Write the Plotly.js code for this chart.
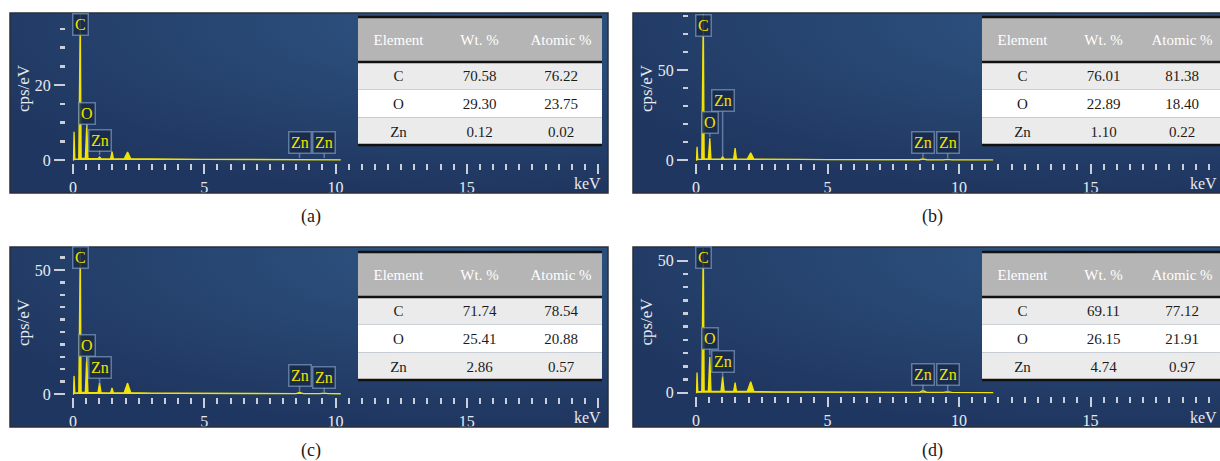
<!DOCTYPE html>
<html><head><meta charset="utf-8">
<script src="https://cdn.plot.ly/plotly-3.0.1.min.js"></script>
<style>html,body{margin:0;padding:0;background:#fff}#chart{width:1220px;height:461px}</style>
</head><body><div id="chart"></div>
<script>
// ---------- data ----------
const energy = [0,0.02,0.04,0.07,0.22,0.277,0.31,0.47,0.525,0.57,0.70,0.95,1.012,1.07,1.30,1.43,1.487,1.54,1.95,2.08,2.20,2.50,3.0,4.0,5.0,6.0,7.0,8.0,8.50,8.63,8.78,9.40,9.57,9.72,10.2,11.3];
const countsA = [0,0,7.5,0.2,0.3,39,0.4,0.4,9.5,0.4,0.35,0.35,0.8,0.35,0.3,0.3,2.2,0.3,0.35,2.1,0.35,0.3,0.25,0.2,0.18,0.15,0.12,0.1,0.1,0.25,0.1,0.08,0.15,0.08,0.05,null];
const countsB = [0,0,7.3,0.3,0.5,82,0.6,0.6,12,0.6,0.5,0.5,1.8,0.5,0.45,0.45,6.6,0.45,0.5,4.0,0.5,0.4,0.35,0.3,0.25,0.2,0.18,0.15,0.15,0.6,0.15,0.12,0.35,0.12,0.1,0.05];
const countsC = [0,0,7.3,0.3,0.5,60,0.6,0.6,15,0.6,0.5,0.5,4.4,0.5,0.45,0.45,2.4,0.45,0.5,4.4,0.5,0.4,0.35,0.3,0.25,0.2,0.18,0.15,0.15,0.6,0.15,0.12,0.35,0.12,0.1,null];
const countsD = [0,0,7.6,0.3,0.5,58,0.6,0.6,13.6,0.6,0.5,0.5,6.1,0.5,0.45,0.45,3.8,0.45,0.5,4.2,0.5,0.4,0.35,0.3,0.25,0.2,0.18,0.15,0.15,0.8,0.15,0.12,0.4,0.12,0.1,0.05];

const lineLabels = ['C','O','Zn','Zn','Zn'];
const lineEnergies = [0.277,0.525,1.012,8.63,9.57];

const tableHeader = ['Element','Wt.\u00a0%','Atomic\u00a0%'];
const elements = ['C','O','Zn'];
const wtA = [70.58,29.30,0.12], atA = [76.22,23.75,0.02];
const wtB = [76.01,22.89,1.10], atB = [81.38,18.40,0.22];
const wtC = [71.74,25.41,2.86], atC = [78.54,20.88,0.57];
const wtD = [69.11,26.15,4.74], atD = [77.12,21.91,0.97];

const xTickVals = [0,5,10,15,20];
const xTickText = ['0','5','10','15',''];
const xUnit = 'keV';
const yTitle = 'cps/eV';
const captions = ['(a)','(b)','(c)','(d)'];

// ---------- layout helpers ----------
const W = 1220, H = 461;
const X = p => p / W;
const Y = p => 1 - p / H;
const FONT = 'Liberation Serif';
const TICKC = '#c9ced8';

const panels = [
  {xa:'x', ya:'y', counts:countsA, wt:wtA, at:atA, cap:captions[0],
   box:[10,13,608,193], xl:66, xr:599, x0:73, kx:26.25, yt:14, yb:163, y0:160, ky:3.75, ydt:20, ymn:5,
   tbl:{l:358,r:602,t:17,m:62,b:145}, capPos:[311,216], keV:603,
   tips:[null,128,155,158,158], boxes:[24,113.5,140,142.5,142.5]},
  {xa:'x2', ya:'y2', counts:countsB, wt:wtB, at:atB, cap:captions[1],
   box:[633,13,1230,193], xl:689, xr:1220, x0:696, kx:26.3, yt:14, yb:163, y0:160, ky:1.8, ydt:50, ymn:10,
   tbl:{l:982,r:1225,t:17,m:62,b:145}, capPos:[932,216], keV:1219,
   tips:[null,137,157,158,158], boxes:[25,122.5,100.5,142.5,142.5]},
  {xa:'x3', ya:'y3', counts:countsC, wt:wtC, at:atC, cap:captions[2],
   box:[10,247,608,427], xl:66, xr:599, x0:73, kx:26.25, yt:248, yb:397, y0:394, ky:2.48, ydt:50, ymn:5,
   tbl:{l:358,r:602,t:252,m:297,b:380}, capPos:[311,450], keV:603,
   tips:[null,362,385,392,392], boxes:[257.5,345,367.5,375.5,377]},
  {xa:'x4', ya:'y4', counts:countsD, wt:wtD, at:atD, cap:captions[3],
   box:[633,247,1230,427], xl:689, xr:1220, x0:696, kx:26.3, yt:248, yb:396, y0:392.7, ky:2.64, ydt:50, ymn:5,
   tbl:{l:982,r:1225,t:252,m:297,b:380}, capPos:[932,450], keV:1219,
   tips:[null,355,378,392,392], boxes:[257.5,338,361.5,374,374]}
];

const bgSvg = 'data:image/svg+xml;charset=utf-8,' + encodeURIComponent(
  '<svg xmlns="http://www.w3.org/2000/svg" width="600" height="180" viewBox="0 0 600 180" preserveAspectRatio="none">' +
  '<defs><radialGradient id="g" cx="0.78" cy="0.05" r="0.95" gradientUnits="objectBoundingBox">' +
  '<stop offset="0" stop-color="#2f5483"/><stop offset="0.55" stop-color="#26446f"/><stop offset="1" stop-color="#1f3660"/>' +
  '</radialGradient></defs><rect width="600" height="180" fill="url(#g)"/></svg>');

const traces = [];
const layout = {
  width: W, height: H, margin:{l:0,r:0,t:0,b:0},
  paper_bgcolor:'#ffffff', plot_bgcolor:'rgba(0,0,0,0)',
  showlegend:false, font:{family:FONT},
  shapes:[], annotations:[], images:[]
};

panels.forEach((p, i) => {
  const n = i === 0 ? '' : String(i + 1);
  // background
  layout.images.push({source:bgSvg, xref:'paper', yref:'paper', x:X(p.box[0]), y:Y(p.box[1]),
    sizex:(p.box[2]-p.box[0])/W, sizey:(p.box[3]-p.box[1])/H, sizing:'stretch',
    xanchor:'left', yanchor:'top', layer:'below'});
  layout.shapes.push({type:'rect', xref:'paper', yref:'paper', x0:X(p.box[0]), x1:X(p.box[2]),
    y0:Y(p.box[3]), y1:Y(p.box[1]), line:{color:'#2a2f38', width:1.5}, fillcolor:'rgba(0,0,0,0)', layer:'above'});

  // spectrum
  traces.push({type:'scatter', mode:'lines', x:energy, y:p.counts, xaxis:p.xa, yaxis:p.ya,
    line:{color:'#f2e205', width:1.3}, fill:'tozeroy', fillcolor:'#f2e205', hoverinfo:'skip'});

  layout['xaxis' + n] = {
    domain:[X(p.xl), X(p.xr)], range:[(p.xl-p.x0)/p.kx, (p.xr-p.x0)/p.kx], anchor:p.ya,
    tickmode:'array', tickvals:xTickVals, ticktext:xTickText,
    ticks:'outside', ticklen:10, tickwidth:2, tickcolor:TICKC,
    minor:{tickmode:'linear', tick0:0, dtick:0.5, ticks:'outside', ticklen:6, tickwidth:2, tickcolor:TICKC, showgrid:false},
    showgrid:false, zeroline:false, showline:false, fixedrange:true,
    tickfont:{family:FONT, size:16, color:'#e8ebf0'}
  };
  layout['yaxis' + n] = {
    domain:[Y(p.yb), Y(p.yt)], range:[-(p.yb-p.y0)/p.ky, (p.y0-p.yt)/p.ky], anchor:p.xa,
    tickmode:'linear', tick0:0, dtick:p.ydt,
    ticks:'outside', ticklen:11, tickwidth:2, tickcolor:TICKC,
    minor:{tickmode:'linear', tick0:0, dtick:p.ymn, ticks:'outside', ticklen:5, tickwidth:2.5, tickcolor:TICKC, showgrid:false},
    showgrid:false, zeroline:false, showline:false, fixedrange:true,
    tickfont:{family:FONT, size:16, color:'#e8ebf0'},
    title:{text:yTitle, font:{family:FONT, size:17, color:'#e8ebf0'}, standoff:0}
  };

  // unit label
  layout.annotations.push({xref:'paper', yref:'paper', x:X(p.keV), y:Y(p.box[3]-10), xanchor:'right', yanchor:'middle',
    text:xUnit, showarrow:false, font:{family:FONT, size:16, color:'#e8ebf0'}});

  // element line labels
  lineLabels.forEach((lab, k) => {
    const tip = p.tips[k], bx = p.boxes[k];
    const a = {xref:p.xa, yref:p.ya, x:lineEnergies[k], text:lab,
      font:{family:FONT, size:16, color:'#f3e300'},
      bgcolor:'rgba(24,42,72,0.88)', bordercolor:'rgba(130,160,200,0.65)', borderwidth:1.5, borderpad:1.5};
    if (tip === null) {
      a.y = (p.y0 - bx) / p.ky; a.showarrow = false; a.yanchor = 'middle';
    } else {
      a.y = (p.y0 - tip) / p.ky; a.showarrow = true; a.arrowhead = 0; a.arrowwidth = 1.5;
      a.arrowcolor = 'rgba(130,160,200,0.65)'; a.ax = 0; a.ay = bx - tip; a.standoff = 0;
    }
    layout.annotations.push(a);
  });

  // table backgrounds + rules (drawn beneath the table text)
  const t = p.tbl, rh = (t.b - t.m) / 3;
  const rect = (y0, y1, c) => ({type:'rect', xref:'paper', yref:'paper', x0:X(t.l), x1:X(t.r), y0:Y(y1), y1:Y(y0),
    line:{width:0}, fillcolor:c, layer:'below'});
  layout.shapes.push(rect(t.t, t.m, '#b5b5b5'));
  layout.shapes.push(rect(t.m, t.m + rh, '#ebebeb'));
  layout.shapes.push(rect(t.m + rh, t.m + 2*rh, '#ffffff'));
  layout.shapes.push(rect(t.m + 2*rh, t.b, '#ebebeb'));
  [t.t, t.m, t.b].forEach(yy => layout.shapes.push({type:'line', xref:'paper', yref:'paper',
    x0:X(t.l), x1:X(t.r), y0:Y(yy), y1:Y(yy), line:{color:'#111', width:2.5}, layer:'below'}));

  // table text
  const domR = Math.min(t.r, W);
  const off = 9;
  traces.push({type:'table', domain:{x:[X(t.l), X(domR)], y:[Y(t.b), Y(t.t + off)]},
    columnwidth:[81, 81, domR - t.l - 162],
    header:{values:tableHeader, align:'center', height:t.m - t.t - off,
      fill:{color:'rgba(0,0,0,0)'}, line:{width:0, color:'rgba(0,0,0,0)'},
      font:{family:FONT, size:15, color:'#ffffff'}},
    cells:{values:[elements, p.wt.map(v => v.toFixed(2)), p.at.map(v => v.toFixed(2))], align:'center', height:rh,
      fill:{color:'rgba(0,0,0,0)'}, line:{width:0, color:'rgba(0,0,0,0)'},
      font:{family:FONT, size:15, color:'#1c1c1c'}}
  });

  // caption
  layout.annotations.push({xref:'paper', yref:'paper', x:X(p.capPos[0]), y:Y(p.capPos[1]), xanchor:'center', yanchor:'middle',
    text:p.cap, showarrow:false, font:{family:FONT, size:18, color:'#1a1a1a'}});
});

Plotly.newPlot('chart', traces, layout, {staticPlot:true, displayModeBar:false});
</script>
</body></html>
